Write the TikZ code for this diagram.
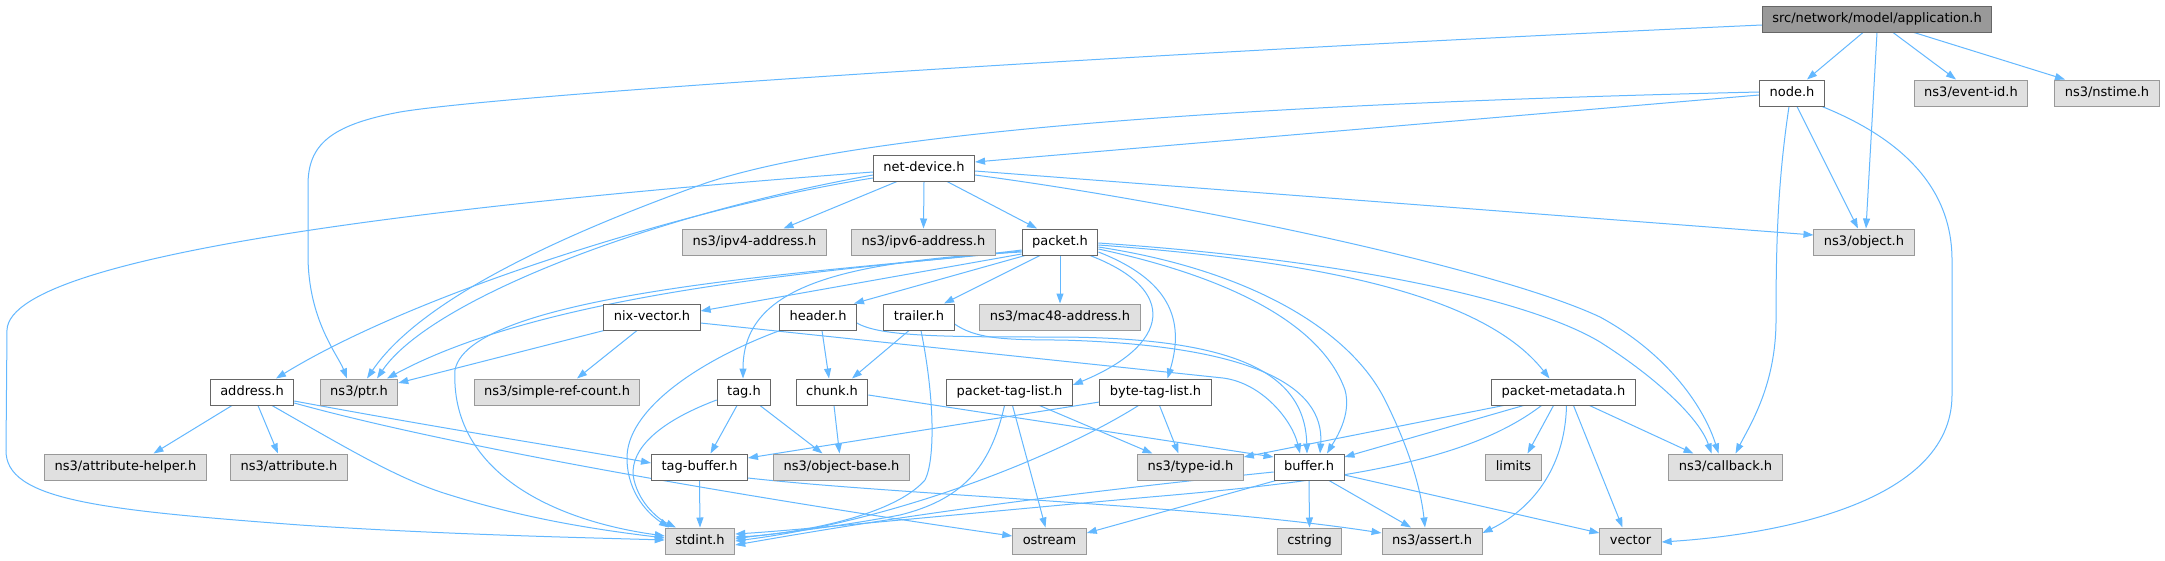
\documentclass[tikz,border=0pt]{standalone}
\usepackage{fontspec}
\setmainfont{DejaVu Sans}
\usetikzlibrary{arrows.meta}
\pgfdeclarelayer{back}
\pgfdeclarelayer{bg}
\pgfsetlayers{back,bg,main}
\definecolor{edgeblue}{HTML}{63B8FF}
\definecolor{boxgray}{HTML}{E0E0E0}
\definecolor{bordergray}{HTML}{999999}
\definecolor{borderdark}{HTML}{666666}
\definecolor{rootgray}{HTML}{999999}
\begin{document}
\begin{tikzpicture}[x=1pt,y=-1pt,
  box/.style={draw=borderdark, fill=white, line width=1pt, minimum height=26pt, inner xsep=10pt, inner ysep=0pt, font=\fontsize{13}{15}\selectfont, text height=9.5pt, text depth=2.5pt},
  ext/.style={box, draw=bordergray, fill=boxgray},
  root/.style={box, fill=rootgray},
  dep/.style={draw=edgeblue, line width=1pt, -{Triangle[length=10pt,width=7pt]}},
]
\useasboundingbox (0,0) rectangle (2165,560);
\begin{pgfonlayer}{back}
\fill[white] (0,0) rectangle (2165,560);
\end{pgfonlayer}

% nodes
\node[root] (app) at (1877,19) {src/network/model/application.h};
\node[box] (node) at (1792,93) {node.h};
\node[ext] (eventid) at (1971,93) {ns3/event-id.h};
\node[ext] (nstime) at (2107,93) {ns3/nstime.h};
\node[box] (netdev) at (924,168) {net-device.h};
\node[ext] (ipv4) at (754.5,242) {ns3/ipv4-address.h};
\node[ext] (ipv6) at (923.5,242) {ns3/ipv6-address.h};
\node[box] (packet) at (1060,242) {packet.h};
\node[ext] (object) at (1864,242) {ns3/object.h};
\node[box] (address) at (252,392) {address.h};
\node[ext] (ptr) at (359,392) {ns3/ptr.h};
\node[ext] (simpleref) at (557,392) {ns3/simple-ref-count.h};
\node[box] (nixvec) at (652,317) {nix-vector.h};
\node[box] (header) at (818,317) {header.h};
\node[box] (trailer) at (919,317) {trailer.h};
\node[ext] (mac48) at (1060,317) {ns3/mac48-address.h};
\node[box] (tag) at (744,392) {tag.h};
\node[box] (chunk) at (832,392) {chunk.h};
\node[box] (pkttag) at (1009.5,392) {packet-tag-list.h};
\node[box] (bytetag) at (1155.5,392) {byte-tag-list.h};
\node[box] (pktmeta) at (1563.5,392) {packet-metadata.h};
\node[ext] (attrhelper) at (125.5,467) {ns3/attribute-helper.h};
\node[ext] (attribute) at (289,467) {ns3/attribute.h};
\node[box] (tagbuffer) at (699.5,467) {tag-buffer.h};
\node[ext] (objectbase) at (841.5,467) {ns3/object-base.h};
\node[ext] (typeid) at (1190.5,467) {ns3/type-id.h};
\node[box] (buffer) at (1309,467) {buffer.h};
\node[ext] (limits) at (1513.5,467) {limits};
\node[ext] (callback) at (1725.5,467) {ns3/callback.h};
\node[ext] (stdint) at (700,541) {stdint.h};
\node[ext] (ostream) at (1049.5,541) {ostream};
\node[ext] (cstring) at (1309.5,541) {cstring};
\node[ext] (assert) at (1432,541) {ns3/assert.h};
\node[ext] (vector) at (1630.5,541) {vector};

\begin{pgfonlayer}{bg}
% application.h
\draw[dep] ([xshift=-14pt]app.south) -- ([xshift=15pt]node.north);
\draw[dep] (app.south) -- ([xshift=2pt]object.north);
\draw[dep] ([xshift=16pt]app.south) -- ([xshift=-15pt]eventid.north);
\draw[dep] ([xshift=37pt]app.south) -- ([xshift=-42pt]nstime.north);
\draw[dep] ([yshift=-6pt]app.west) .. controls (1100,55) and (500,95) .. (400,112) .. controls (330,125) and (308,145) .. (308,185) -- (308,255) .. controls (308,320) and (338,355) .. ([xshift=-12pt]ptr.north);
% node.h
\draw[dep] ([yshift=-2pt]node.west) -- ([yshift=6pt]netdev.east);
\draw[dep] ([yshift=1pt]node.west) .. controls (1200,105) and (850,135) .. (706,183) .. controls (560,235) and (420,300) .. ([xshift=8pt]ptr.north);
\draw[dep] ([xshift=5pt]node.south) -- ([xshift=-6pt]object.north);
\draw[dep] ([xshift=-3pt]node.south) .. controls (1778,180) and (1776,240) .. (1776,320) .. controls (1776,385) and (1750,425) .. ([xshift=10pt]callback.north);
\draw[dep] ([xshift=30pt]node.south) .. controls (1905,140) and (1952,190) .. (1952,260) -- (1952,395) .. controls (1952,505) and (1770,535) .. ([yshift=-1pt]vector.east);
% net-device.h
\draw[dep] ([yshift=-10pt]netdev.west) .. controls (700,205) and (420,290) .. ([xshift=24pt]address.north);
\draw[dep] ([yshift=-7pt]netdev.west) .. controls (650,215) and (430,300) .. ([xshift=18pt]ptr.north);
\draw[dep] ([yshift=-4pt]netdev.west) .. controls (500,200) and (10,250) .. (7,330) -- (6,450) .. controls (5,500) and (100,510) .. (300,525) .. controls (450,535) and (600,538) .. ([yshift=1pt]stdint.west);
\draw[dep] ([xshift=-27pt]netdev.south) -- ([xshift=29pt]ipv4.north);
\draw[dep] (netdev.south) -- (ipv6.north);
\draw[dep] ([xshift=23pt]netdev.south) -- ([xshift=-23pt]packet.north);
\draw[dep] ([yshift=-3pt]netdev.east) -- ([yshift=7pt]object.west);
\draw[dep] ([yshift=-7pt]netdev.east) .. controls (1200,205) and (1500,270) .. (1600,317) .. controls (1670,355) and (1705,410) .. ([xshift=-7pt]callback.north);
% packet.h
\draw[dep] ([yshift=-12pt]packet.west) -- ([yshift=6pt]nixvec.east);
\draw[dep] ([xshift=-35pt]packet.south) -- ([xshift=36pt]header.north);
\draw[dep] ([xshift=-20pt]packet.south) -- ([xshift=25pt]trailer.north);
\draw[dep] (packet.south) -- (mac48.north);
\draw[dep] ([yshift=-10pt]packet.west) .. controls (830,262) and (743,290) .. ([xshift=-1pt]tag.north);
\draw[dep] ([yshift=-8pt]packet.west) .. controls (880,268) and (560,285) .. ([xshift=28pt]ptr.north);
\draw[dep] ([yshift=-9pt]packet.west) .. controls (850,270) and (470,290) .. (455,370) .. controls (450,470) and (550,520) .. ([yshift=5pt]stdint.west);
\draw[dep] ([xshift=30pt]packet.south) .. controls (1180,290) and (1170,345) .. ([yshift=7pt]pkttag.east);
\draw[dep] ([yshift=-10pt]packet.east) .. controls (1170,280) and (1185,320) .. ([xshift=12pt]bytetag.north);
\draw[dep] ([yshift=-7pt]packet.east) .. controls (1220,275) and (1320,320) .. (1345,390) .. controls (1352,415) and (1335,440) .. ([xshift=18pt]buffer.north);
\draw[dep] ([yshift=-5pt]packet.east) .. controls (1250,270) and (1350,330) .. (1385,400) .. controls (1415,460) and (1422,500) .. ([xshift=-7pt]assert.north);
\draw[dep] ([yshift=-3pt]packet.east) .. controls (1300,260) and (1480,290) .. ([xshift=-14pt]pktmeta.north);
\draw[dep] ([yshift=-1pt]packet.east) .. controls (1350,260) and (1530,300) .. (1600,342) .. controls (1660,380) and (1700,420) .. ([xshift=-14pt]callback.north);
% nix-vector.h
\draw[dep] ([xshift=-48pt]nixvec.south) -- ([yshift=9pt]ptr.east);
\draw[dep] ([xshift=-15pt]nixvec.south) -- ([xshift=20pt]simpleref.north);
\draw[dep] ([yshift=-6pt]nixvec.east) -- (1223,378) .. controls (1262,383) and (1292,420) .. ([xshift=-9pt]buffer.north);
% header.h
\draw[dep] ([xshift=4pt]header.south) -- ([xshift=-3pt]chunk.north);
\draw[dep] ([xshift=-38pt]header.south) .. controls (700,360) and (625,410) .. (627,460) .. controls (628,495) and (650,515) .. ([xshift=-31pt]stdint.north);
\draw[dep] ([yshift=-6pt]header.east) .. controls (880,337) and (950,337) .. (1060,337) .. controls (1230,338) and (1305,370) .. ([xshift=-2pt]buffer.north);
% trailer.h
\draw[dep] ([xshift=-10pt]trailer.south) -- ([xshift=20pt]chunk.north);
\draw[dep] ([xshift=2pt]trailer.south) .. controls (935,400) and (935,460) .. (925,480) .. controls (890,520) and (780,535) .. ([yshift=4pt]stdint.east);
\draw[dep] ([yshift=-7pt]trailer.east) .. controls (975,338) and (1000,340) .. (1060,340) .. controls (1250,345) and (1325,385) .. ([xshift=11pt]buffer.north);
% chunk.h
\draw[dep] ([xshift=2pt]chunk.south) -- ([xshift=-2pt]objectbase.north);
\draw[dep] ([yshift=-3pt]chunk.east) -- ([yshift=10pt]buffer.west);
% tag.h
\draw[dep] ([xshift=-7pt]tag.south) -- ([xshift=11pt]tagbuffer.north);
\draw[dep] ([xshift=16pt]tag.south) -- ([xshift=-19pt]objectbase.north);
\draw[dep] ([yshift=-8pt]tag.west) .. controls (650,425) and (628,455) .. (634,480) .. controls (640,505) and (660,520) .. ([xshift=-24pt]stdint.north);
% packet-tag-list.h
\draw[dep] ([xshift=30pt]pkttag.south) -- ([xshift=-38pt]typeid.north);
\draw[dep] ([xshift=3pt]pkttag.south) -- ([xshift=-4pt]ostream.north);
\draw[dep] ([xshift=-5pt]pkttag.south) .. controls (990,470) and (960,500) .. (900,515) .. controls (820,530) and (760,535) .. ([yshift=2pt]stdint.east);
% byte-tag-list.h
\draw[dep] ([yshift=-10pt]bytetag.west) -- ([yshift=9pt]tagbuffer.east);
\draw[dep] ([xshift=4pt]bytetag.south) -- ([xshift=-12pt]typeid.north);
\draw[dep] ([xshift=-17pt]bytetag.south) .. controls (1060,455) and (900,520) .. (stdint.east);
% tag-buffer.h
\draw[dep] (tagbuffer.south) -- (stdint.north);
\draw[dep] ([yshift=-11pt]tagbuffer.east) .. controls (900,495) and (1200,505) .. ([yshift=8pt]assert.west);
% address.h
\draw[dep] ([xshift=-20pt]address.south) -- ([xshift=28pt]attrhelper.north);
\draw[dep] ([xshift=6pt]address.south) -- ([xshift=-11pt]attribute.north);
\draw[dep] ([yshift=-9pt]address.east) .. controls (450,430) and (580,450) .. ([yshift=4pt]tagbuffer.west);
\draw[dep] ([yshift=-11pt]address.east) .. controls (500,460) and (900,520) .. ([yshift=5pt]ostream.west);
\draw[dep] ([xshift=20pt]address.south) .. controls (350,450) and (400,480) .. (450,495) .. controls (530,520) and (600,530) .. ([yshift=3pt]stdint.west);
% packet-metadata.h
\draw[dep] ([xshift=-60pt]pktmeta.south) -- ([yshift=10pt]typeid.east);
\draw[dep] ([xshift=-40pt]pktmeta.south) -- ([yshift=10pt]buffer.east);
\draw[dep] ([xshift=-22pt]pktmeta.south) .. controls (1470,460) and (1350,480) .. (1150,497) .. controls (950,515) and (800,530) .. ([yshift=7pt]stdint.east);
\draw[dep] ([xshift=-10pt]pktmeta.south) -- ([xshift=14pt]limits.north);
\draw[dep] ([xshift=3pt]pktmeta.south) .. controls (1565,470) and (1530,510) .. ([yshift=8pt]assert.east);
\draw[dep] ([xshift=10pt]pktmeta.south) -- ([xshift=-8pt]vector.north);
\draw[dep] ([xshift=26pt]pktmeta.south) -- ([xshift=-32pt]callback.north);
% buffer.h
\draw[dep] ([yshift=-5pt]buffer.west) .. controls (1000,500) and (850,525) .. ([yshift=-4pt]stdint.east);
\draw[dep] ([xshift=-33pt]buffer.south) -- ([yshift=8pt]ostream.east);
\draw[dep] (buffer.south) -- (cstring.north);
\draw[dep] ([xshift=20pt]buffer.south) -- ([xshift=-21pt]assert.north);
\draw[dep] ([yshift=-8pt]buffer.east) -- ([yshift=8pt]vector.west);
\end{pgfonlayer}
\end{tikzpicture}
\end{document}
